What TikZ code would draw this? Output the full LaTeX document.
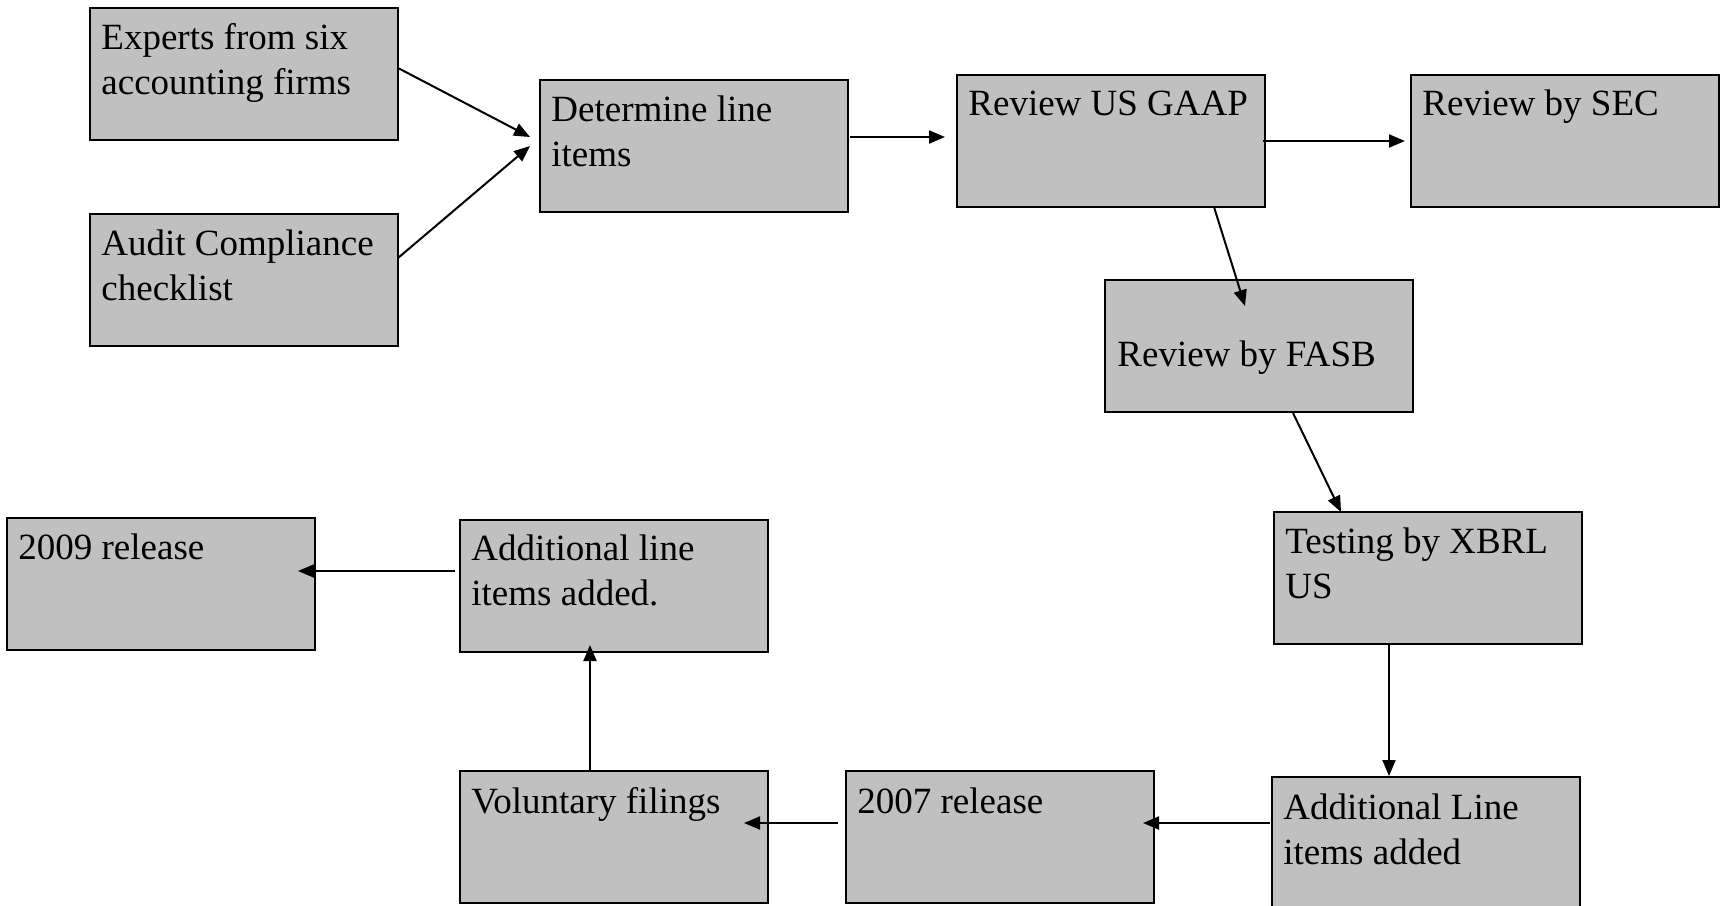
\documentclass[tikz,border=0pt]{standalone}
\usepackage{fontspec}
\setmainfont{Liberation Serif}
\usetikzlibrary{arrows.meta,calc}
\definecolor{boxgray}{HTML}{C0C0C0}
\begin{document}
\begin{tikzpicture}[x=0.5pt,y=-0.5pt,
  box/.style={draw=black, fill=boxgray, line width=0.7pt, minimum width=154pt, minimum height=66pt, anchor=north west, inner sep=0pt, outer sep=0pt},
  txt/.style={anchor=base west, inner sep=0pt, align=left, font=\fontsize{18.5}{22.5}\selectfont},
  arr/.style={line width=1pt, -{Triangle[length=8pt,width=6.5pt]}}]
\useasboundingbox (0,0) rectangle (1723,905);
% boxes
\node[box] (exp) at (90,8) {};
\node[box] (aud) at (90,214) {};
\node[box] (det) at (540,80) {};
\node[box] (gaap) at (957,75) {};
\node[box] (sec) at (1411,75) {};
\node[box] (fasb) at (1105,280) {};
\node[box] (test) at (1274,512) {};
\node[box] (r09) at (7,518) {};
\node[box] (add1) at (460,520) {};
\node[box] (vol) at (460,771) {};
\node[box] (r07) at (846,771) {};
\node[box] (add2) at (1272,777) {};
% texts (base anchor = baseline of last line)
\node[txt] (t1) at ($(exp.north west)+(11,86)$) {Experts from six\\accounting firms};
\node[txt] (t2) at ($(aud.north west)+(11,86)$) {Audit Compliance\\checklist};
\node[txt] (t3) at ($(det.north west)+(11,86)$) {Determine line\\items};
\node[txt] (t4) at ($(gaap.north west)+(11,40)$) {Review US GAAP};
\node[txt] (t5) at ($(sec.north west)+(11,40)$) {Review by SEC};
\node[txt] (t6) at ($(fasb.north west)+(12,86)$) {Review by FASB};
\node[txt] (t7) at ($(test.north west)+(11,86)$) {Testing by XBRL\\US};
\node[txt] (t8) at ($(r09.north west)+(11,41)$) {2009 release};
\node[txt] (t9) at ($(add1.north west)+(11,85)$) {Additional line\\items added.};
\node[txt] (t10) at ($(vol.north west)+(11,42)$) {Voluntary filings};
\node[txt] (t11) at ($(r07.north west)+(11,42)$) {2007 release};
\node[txt] (t12) at ($(add2.north west)+(11,87)$) {Additional Line\\items added};
% connectors
\draw[arr] ($(exp.east)+(0,-6)$) -- ($(det.west)+(-10,-9)$);
\draw[arr] ($(aud.east)+(0,-22)$) -- ($(det.west)+(-10,0)$);
\draw[arr] ($(det.east)+(2,-9)$) -- ($(gaap.west)+(-12,-4)$);
\draw[arr] ($(gaap.east)+(-2,0)$) -- ($(sec.west)+(-6,0)$);
\draw[arr] ($(gaap.south)+(103,0)$) -- ($(fasb.north)+(-14,26)$);
\draw[arr] ($(fasb.south)+(34,1)$) -- ($(test.north)+(-87,0)$);
\draw[arr] ($(test.south)+(-39,0)$) -- ($(add2.north)+(-37,-1)$);
\draw[arr] ($(add2.west)+(-2,-20)$) -- ($(r07.east)+(-11,-14)$);
\draw[arr] ($(r07.west)+(-8,-14)$) -- ($(vol.east)+(-24,-14)$);
\draw[arr] ($(vol.north)+(-24,0)$) -- ($(add1.south)+(-24,-7)$);
\draw[arr] ($(add1.west)+(-5,-15)$) -- ($(r09.east)+(-17,-13)$);
\end{tikzpicture}
\end{document}
